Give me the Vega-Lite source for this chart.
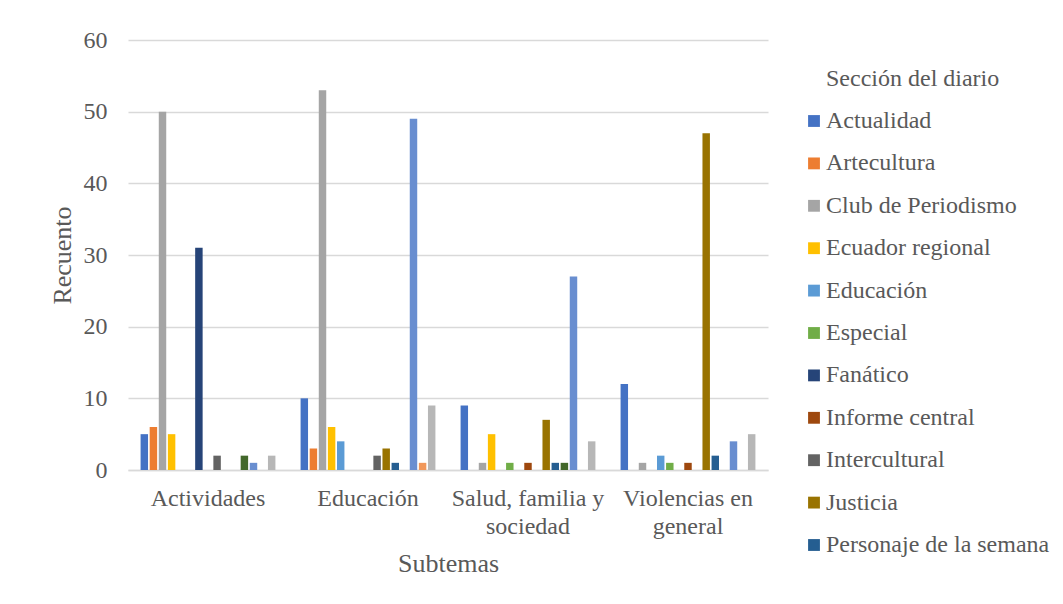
{
  "$schema": "https://vega.github.io/schema/vega-lite/v6.json",
  "autosize": {"type": "none"},
  "width": 640,
  "height": 430,
  "padding": {"left": 128, "top": 40, "right": 295, "bottom": 134},
  "background": "white",
  "config": {
    "font": "Liberation Serif",
    "view": {"stroke": null},
    "axis": {"labelColor": "#595959", "titleColor": "#595959", "labelFont": "Liberation Serif", "titleFont": "Liberation Serif", "titleFontWeight": "normal"},
    "legend": {"labelFont": "Liberation Serif", "titleFont": "Liberation Serif"}
  },
  "data": {
    "values": [
      {"subtema": "Actividades", "seccion": "Actualidad", "n": 5},
      {"subtema": "Actividades", "seccion": "Artecultura", "n": 6},
      {"subtema": "Actividades", "seccion": "Club de Periodismo", "n": 50},
      {"subtema": "Actividades", "seccion": "Ecuador regional", "n": 5},
      {"subtema": "Actividades", "seccion": "Fanático", "n": 31},
      {"subtema": "Actividades", "seccion": "Intercultural", "n": 2},
      {"subtema": "Actividades", "seccion": "Quito", "n": 2},
      {"subtema": "Actividades", "seccion": "Sociedad", "n": 1},
      {"subtema": "Actividades", "seccion": "Últimas noticias", "n": 2},
      {"subtema": "Educación", "seccion": "Actualidad", "n": 10},
      {"subtema": "Educación", "seccion": "Artecultura", "n": 3},
      {"subtema": "Educación", "seccion": "Club de Periodismo", "n": 53},
      {"subtema": "Educación", "seccion": "Ecuador regional", "n": 6},
      {"subtema": "Educación", "seccion": "Educación", "n": 4},
      {"subtema": "Educación", "seccion": "Intercultural", "n": 2},
      {"subtema": "Educación", "seccion": "Justicia", "n": 3},
      {"subtema": "Educación", "seccion": "Personaje de la semana", "n": 1},
      {"subtema": "Educación", "seccion": "Sociedad", "n": 49},
      {"subtema": "Educación", "seccion": "Tendencias", "n": 1},
      {"subtema": "Educación", "seccion": "Últimas noticias", "n": 9},
      {"subtema": "Salud, familia y sociedad", "seccion": "Actualidad", "n": 9},
      {"subtema": "Salud, familia y sociedad", "seccion": "Club de Periodismo", "n": 1},
      {"subtema": "Salud, familia y sociedad", "seccion": "Ecuador regional", "n": 5},
      {"subtema": "Salud, familia y sociedad", "seccion": "Especial", "n": 1},
      {"subtema": "Salud, familia y sociedad", "seccion": "Informe central", "n": 1},
      {"subtema": "Salud, familia y sociedad", "seccion": "Justicia", "n": 7},
      {"subtema": "Salud, familia y sociedad", "seccion": "Personaje de la semana", "n": 1},
      {"subtema": "Salud, familia y sociedad", "seccion": "Quito", "n": 1},
      {"subtema": "Salud, familia y sociedad", "seccion": "Sociedad", "n": 27},
      {"subtema": "Salud, familia y sociedad", "seccion": "Últimas noticias", "n": 4},
      {"subtema": "Violencias en general", "seccion": "Actualidad", "n": 12},
      {"subtema": "Violencias en general", "seccion": "Club de Periodismo", "n": 1},
      {"subtema": "Violencias en general", "seccion": "Educación", "n": 2},
      {"subtema": "Violencias en general", "seccion": "Especial", "n": 1},
      {"subtema": "Violencias en general", "seccion": "Informe central", "n": 1},
      {"subtema": "Violencias en general", "seccion": "Justicia", "n": 47},
      {"subtema": "Violencias en general", "seccion": "Personaje de la semana", "n": 2},
      {"subtema": "Violencias en general", "seccion": "Sociedad", "n": 4},
      {"subtema": "Violencias en general", "seccion": "Últimas noticias", "n": 5}
    ]
  },
  "mark": {"type": "bar"},
  "encoding": {
    "x": {
      "field": "subtema",
      "type": "nominal",
      "sort": ["Actividades", "Educación", "Salud, familia y sociedad", "Violencias en general"],
      "scale": {"paddingInner": 0.147, "paddingOuter": 0.0735},
      "axis": {
        "title": "Subtemas",
        "labelAngle": 0,
        "labelFontSize": 24,
        "titleFontSize": 26,
        "labelPadding": 16,
        "titlePadding": 12,
        "ticks": false,
        "domainColor": "#d9d9d9",
        "domainWidth": 1.3,
        "labelLineHeight": 28,
        "labelLimit": 300,
        "labelExpr": "datum.value == 'Salud, familia y sociedad' ? ['Salud, familia y', 'sociedad'] : datum.value == 'Violencias en general' ? ['Violencias en', 'general'] : datum.value"
      }
    },
    "xOffset": {
      "field": "seccion",
      "type": "nominal",
      "scale": {
        "domain": ["Actualidad", "Artecultura", "Club de Periodismo", "Ecuador regional", "Educación", "Especial", "Fanático", "Informe central", "Intercultural", "Justicia", "Personaje de la semana", "Quito", "Sociedad", "Tendencias", "Últimas noticias"],
        "paddingInner": 0.18,
        "paddingOuter": 0.09
      }
    },
    "y": {
      "field": "n",
      "type": "quantitative",
      "scale": {"domain": [0, 60]},
      "axis": {
        "title": "Recuento",
        "values": [0, 10, 20, 30, 40, 50, 60],
        "labelFontSize": 24,
        "titleFontSize": 26,
        "labelPadding": 21,
        "titlePadding": 8,
        "ticks": false,
        "domain": false,
        "gridColor": "#d9d9d9",
        "gridWidth": 1.3
      }
    },
    "color": {
      "field": "seccion",
      "type": "nominal",
      "scale": {
        "domain": ["Actualidad", "Artecultura", "Club de Periodismo", "Ecuador regional", "Educación", "Especial", "Fanático", "Informe central", "Intercultural", "Justicia", "Personaje de la semana", "Quito", "Sociedad", "Tendencias", "Últimas noticias"],
        "range": ["#4472C4", "#ED7D31", "#A5A5A5", "#FFC000", "#5B9BD5", "#70AD47", "#264478", "#9E480E", "#636363", "#997300", "#255E91", "#43682B", "#698ED0", "#F1975A", "#B7B7B7"]
      },
      "legend": {
        "title": "\u200b\u00a0\u00a0\u00a0\u00a0Sección del diario",
        "values": ["Actualidad", "Artecultura", "Club de Periodismo", "Ecuador regional", "Educación", "Especial", "Fanático", "Informe central", "Intercultural", "Justicia", "Personaje de la semana"],
        "orient": "none",
        "legendX": 674,
        "legendY": 27,
        "titleFontSize": 24,
        "titleFontWeight": "normal",
        "titleColor": "#595959",
        "titleLimit": 400,
        "titlePadding": 18,
        "labelFontSize": 24,
        "labelColor": "#595959",
        "labelLimit": 400,
        "labelOffset": 0,
        "symbolType": "square",
        "symbolSize": 140,
        "symbolStrokeWidth": 0,
        "rowPadding": 18.4
      }
    }
  }
}
